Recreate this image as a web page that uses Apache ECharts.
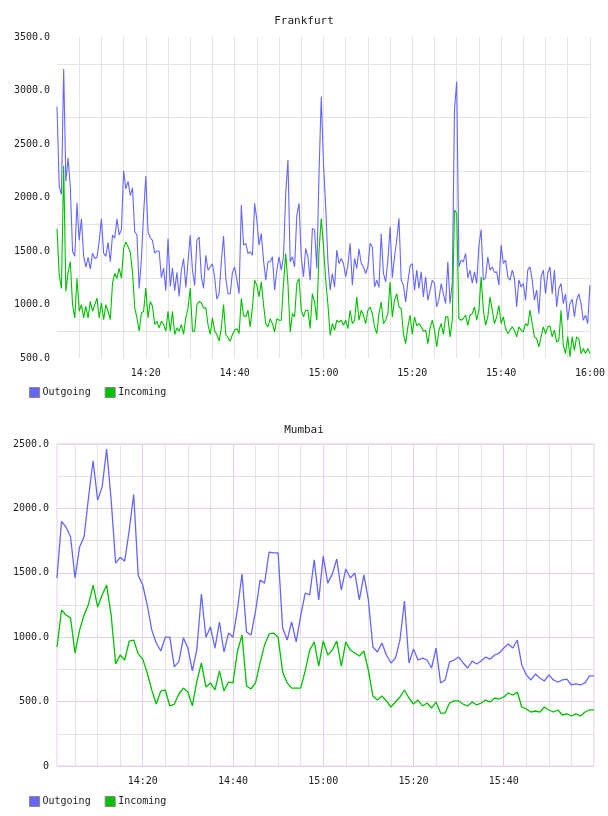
<!DOCTYPE html>
<html>
<head>
<meta charset="utf-8">
<script src="https://cdn.jsdelivr.net/npm/echarts@6/dist/echarts.min.js"></script>
<style>
html,body{margin:0;padding:0;background:#fff;}
#chart{width:608px;height:816px;}
</style>
</head>
<body>
<div id="chart"></div>
<script>
// ---------- DATA ----------
const seriesNames = ['Outgoing', 'Incoming'];
const chartTitles = ['Frankfurt', 'Mumbai'];

// Frankfurt: one sample every 30 s from 14:00 (minutes since 14:00)
const frankStartMin = 0;
const frankStepMin = 0.5;
const frankOutgoing = [
2850,2100,2030,3200,2150,2370,2100,1500,1450,1950,
1600,1800,1450,1350,1440,1330,1480,1430,1440,1590,
1800,1480,1450,1580,1400,1650,1620,1800,1650,1700,
2250,2080,2150,2020,2090,1680,1650,1150,1420,1850,
2200,1680,1620,1600,1480,1500,1500,1250,1340,1130,
1617,1170,1340,1130,1300,1076,1320,1430,1160,1400,
1650,1320,1180,1600,1630,1260,1150,1460,1320,1350,
1380,1250,1050,1100,1400,1640,1250,1100,1100,1300,
1350,1230,1100,1930,1555,1571,1477,1493,1461,1945,
1789,1555,1664,1415,1227,1399,1399,1446,1134,1321,
1446,1321,1446,2039,2351,1399,1446,1352,1836,1945,
1446,1259,1524,1446,1227,1711,1695,1337,2226,2943,
2319,1914,1400,1134,1290,1165,1508,1383,1430,1383,
1259,1368,1571,1181,1430,1337,1520,1383,1350,1290,
1352,1571,1540,1165,1227,1160,1664,1290,1212,1415,
1727,1250,1446,1602,1805,1227,1181,1025,1212,1360,
1383,1134,1321,1150,1305,1071,1259,1040,1130,1227,
1196,978,1050,1196,1100,1009,1399,1009,1200,2819,
3084,1352,1415,1400,1477,1250,1321,1200,1305,1196,
1550,1700,1227,1250,1446,1321,1350,1300,1305,1181,
1555,1383,1415,1260,1227,1321,1243,978,1230,1165,
1196,1040,1321,1352,1227,1040,1134,915,1259,1321,
1100,1290,1352,1100,1321,978,1150,1196,1009,1100,
853,1009,1050,884,1040,1100,1009,853,900,822,
1181
];
const frankIncoming = [
1709,1277,1150,2296,1122,1300,1400,998,875,1246,
937,998,875,983,875,1029,937,998,1060,875,
1014,859,998,937,859,1200,1292,1246,1338,1246,
1524,1585,1539,1493,1300,968,875,751,921,937,
1153,875,1029,983,813,844,782,844,813,751,
937,751,937,720,782,751,813,720,875,968,
1153,751,751,1000,1029,1014,968,968,813,720,
875,751,720,658,782,1000,720,689,658,720,
760,775,728,1055,900,884,946,790,977,1227,
1180,1071,1211,1000,821,790,868,821,743,868,
853,853,1196,1477,1196,743,915,884,1196,1243,
946,884,946,946,775,1102,1024,853,1508,1804,
1550,1227,1000,712,821,759,853,837,853,806,
853,775,946,821,850,1071,853,946,900,821,
946,977,915,790,728,915,1024,821,853,915,
1211,884,1040,1102,977,962,728,634,790,900,
720,884,800,822,791,750,760,635,780,853,
760,603,760,822,720,884,884,697,853,1883,
1850,869,853,869,900,806,900,915,978,853,
947,1259,947,806,884,1071,947,822,884,993,
822,884,775,728,760,791,760,697,791,760,
744,822,800,947,822,697,681,603,700,791,
728,791,800,697,760,650,666,947,620,541,
700,510,697,572,697,681,541,588,541,588,
541
];
const frankYTicks = [500, 1000, 1500, 2000, 2500, 3000, 3500];
const frankGridValues = [750, 1250, 1750, 2250, 2750, 3250];

// Mumbai: one sample per minute from 14:01
const mumbaiStartMin = 1;
const mumbaiStepMin = 1;
const mumbaiOutgoing = [
1460,1900,1855,1780,1460,1700,1780,2090,2370,2065,
2165,2460,2065,1575,1620,1590,1830,2110,1480,1405,
1250,1055,955,893,1000,1000,770,810,995,916,
738,908,1335,1000,1080,916,1118,885,1032,1000,
1220,1490,1040,1017,1203,1444,1420,1660,1654,1654,
1071,978,1118,963,1165,1343,1328,1600,1290,1630,
1420,1490,1607,1366,1530,1460,1498,1290,1483,1290,
924,885,955,862,800,838,978,1281,800,908,
823,838,823,761,916,645,668,808,823,846,
800,761,815,792,815,846,830,862,877,916,
947,916,978,784,707,668,714,683,660,707,
668,652,668,675,629,637,629,645,700,700
];
const mumbaiIncoming = [
924,1211,1172,1150,877,1055,1172,1258,1405,1235,
1328,1405,1172,792,862,823,970,978,870,830,
722,590,481,582,590,466,481,559,605,575,
466,660,800,613,645,590,738,582,652,645,
893,1017,621,598,645,800,940,1025,1032,1000,
730,645,605,605,605,738,900,963,776,970,
862,900,970,776,963,900,877,854,893,745,
543,512,543,505,458,497,536,590,528,481,
512,466,489,450,497,411,411,489,505,505,
481,466,497,474,489,512,497,528,520,536,
567,551,575,458,443,419,427,419,458,435,
419,435,396,404,388,404,388,419,435,435
];
const mumbaiYTicks = [0, 500, 1000, 1500, 2000, 2500];

// ---------- RENDER ----------
const BLUE = '#6666ff';
const GREEN = '#00c000';
const GRAY = '#e3e3e3';
const PINK = '#e6d0e8';
const FONT = '"DejaVu Sans Mono", monospace';

function toPairs(vals, start, step) {
  return vals.map((v, i) => [start + i * step, v]);
}
function fmtTime(m) {
  const h = 14 + Math.floor(m / 60);
  const mm = m % 60;
  return h + ':' + (mm < 10 ? '0' + mm : mm);
}

const chart = echarts.init(document.getElementById('chart'), null, {renderer: 'canvas'});

const labelStyle = {color: '#222', fontFamily: FONT, fontSize: 10};
const legendBase = {data: seriesNames, left: 24, itemWidth: 10, itemHeight: 10, icon: 'rect', itemGap: 14,
  itemStyle: {borderColor: '#888', borderWidth: 1},
  textStyle: {fontFamily: FONT, fontSize: 10, color: '#222', padding: [0, 0, 0, -2]}};

const option = {
  animation: false,
  backgroundColor: '#ffffff',
  title: [
    {text: chartTitles[0], left: 'center', top: 11, textStyle: {fontFamily: FONT, fontSize: 11, fontWeight: 'normal', color: '#222'}},
    {text: chartTitles[1], left: 'center', top: 420, textStyle: {fontFamily: FONT, fontSize: 11, fontWeight: 'normal', color: '#222'}}
  ],
  legend: [
    Object.assign({}, legendBase, {top: 382}),
    Object.assign({}, legendBase, {top: 791})
  ],
  grid: [
    {left: 57, top: 37, width: 535, height: 321, containLabel: false},
    {left: 57, top: 444, width: 537, height: 322, containLabel: false, show: true, borderColor: PINK, borderWidth: 1, backgroundColor: 'transparent'}
  ],
  xAxis: [
    {type: 'value', gridIndex: 0, min: 0, max: 120, interval: 5,
     axisLine: {show: false}, axisTick: {show: false},
     axisLabel: {...labelStyle, margin: 10, showMinLabel: false,
       formatter: v => (v % 20 === 0 && v > 0) ? fmtTime(v) : ''},
     splitLine: {show: true, showMinLine: false, showMaxLine: true, lineStyle: {color: GRAY, width: 1}}},
    {type: 'value', gridIndex: 1, min: 1, max: 120, minInterval: 5, maxInterval: 5,
     axisLine: {show: false}, axisTick: {show: false},
     axisLabel: {...labelStyle, margin: 10,
       formatter: v => (v % 20 === 0 && v > 0 && v < 120) ? fmtTime(v) : ''},
     splitLine: {show: true, showMinLine: false, showMaxLine: false, lineStyle: {color: [GRAY, GRAY, GRAY, PINK], width: 1}}}
  ],
  yAxis: [
    {type: 'value', gridIndex: 0, min: frankYTicks[0], max: frankYTicks[frankYTicks.length - 1], interval: 500,
     axisLine: {show: false}, axisTick: {show: false},
     axisLabel: {...labelStyle, margin: 7, formatter: v => v.toFixed(1)},
     splitLine: {show: false}},
    {type: 'value', gridIndex: 1, min: mumbaiYTicks[0], max: mumbaiYTicks[mumbaiYTicks.length - 1], interval: 500,
     axisLine: {show: false}, axisTick: {show: false},
     axisLabel: {...labelStyle, margin: 8, formatter: v => v === 0 ? '0' : v.toFixed(1)},
     splitLine: {show: true, lineStyle: {color: PINK, width: 1}},
     minorTick: {show: false, splitNumber: 2},
     minorSplitLine: {show: true, lineStyle: {color: GRAY, width: 1}}}
  ],
  series: [
    {type: 'line', xAxisIndex: 0, yAxisIndex: 0, data: [], silent: true, z: 1,
     markLine: {silent: true, symbol: 'none', z: 1, animation: false,
       label: {show: false}, emphasis: {disabled: true},
       lineStyle: {color: GRAY, type: 'solid', width: 1},
       data: frankGridValues.map(v => ({yAxis: v}))}},
    {name: seriesNames[0], type: 'line', xAxisIndex: 0, yAxisIndex: 0, z: 3,
     data: toPairs(frankOutgoing, frankStartMin, frankStepMin),
     showSymbol: false, symbol: 'none', lineStyle: {color: BLUE, width: 1.1}, itemStyle: {color: BLUE}},
    {name: seriesNames[1], type: 'line', xAxisIndex: 0, yAxisIndex: 0, z: 4,
     data: toPairs(frankIncoming, frankStartMin, frankStepMin),
     showSymbol: false, symbol: 'none', lineStyle: {color: GREEN, width: 1.1}, itemStyle: {color: GREEN}},
    {name: seriesNames[0], type: 'line', xAxisIndex: 1, yAxisIndex: 1, z: 3,
     data: toPairs(mumbaiOutgoing, mumbaiStartMin, mumbaiStepMin),
     showSymbol: false, symbol: 'none', lineStyle: {color: BLUE, width: 1.3}, itemStyle: {color: BLUE}},
    {name: seriesNames[1], type: 'line', xAxisIndex: 1, yAxisIndex: 1, z: 4,
     data: toPairs(mumbaiIncoming, mumbaiStartMin, mumbaiStepMin),
     showSymbol: false, symbol: 'none', lineStyle: {color: GREEN, width: 1.3}, itemStyle: {color: GREEN}}
  ]
};
chart.setOption(option);
</script>
</body>
</html>
